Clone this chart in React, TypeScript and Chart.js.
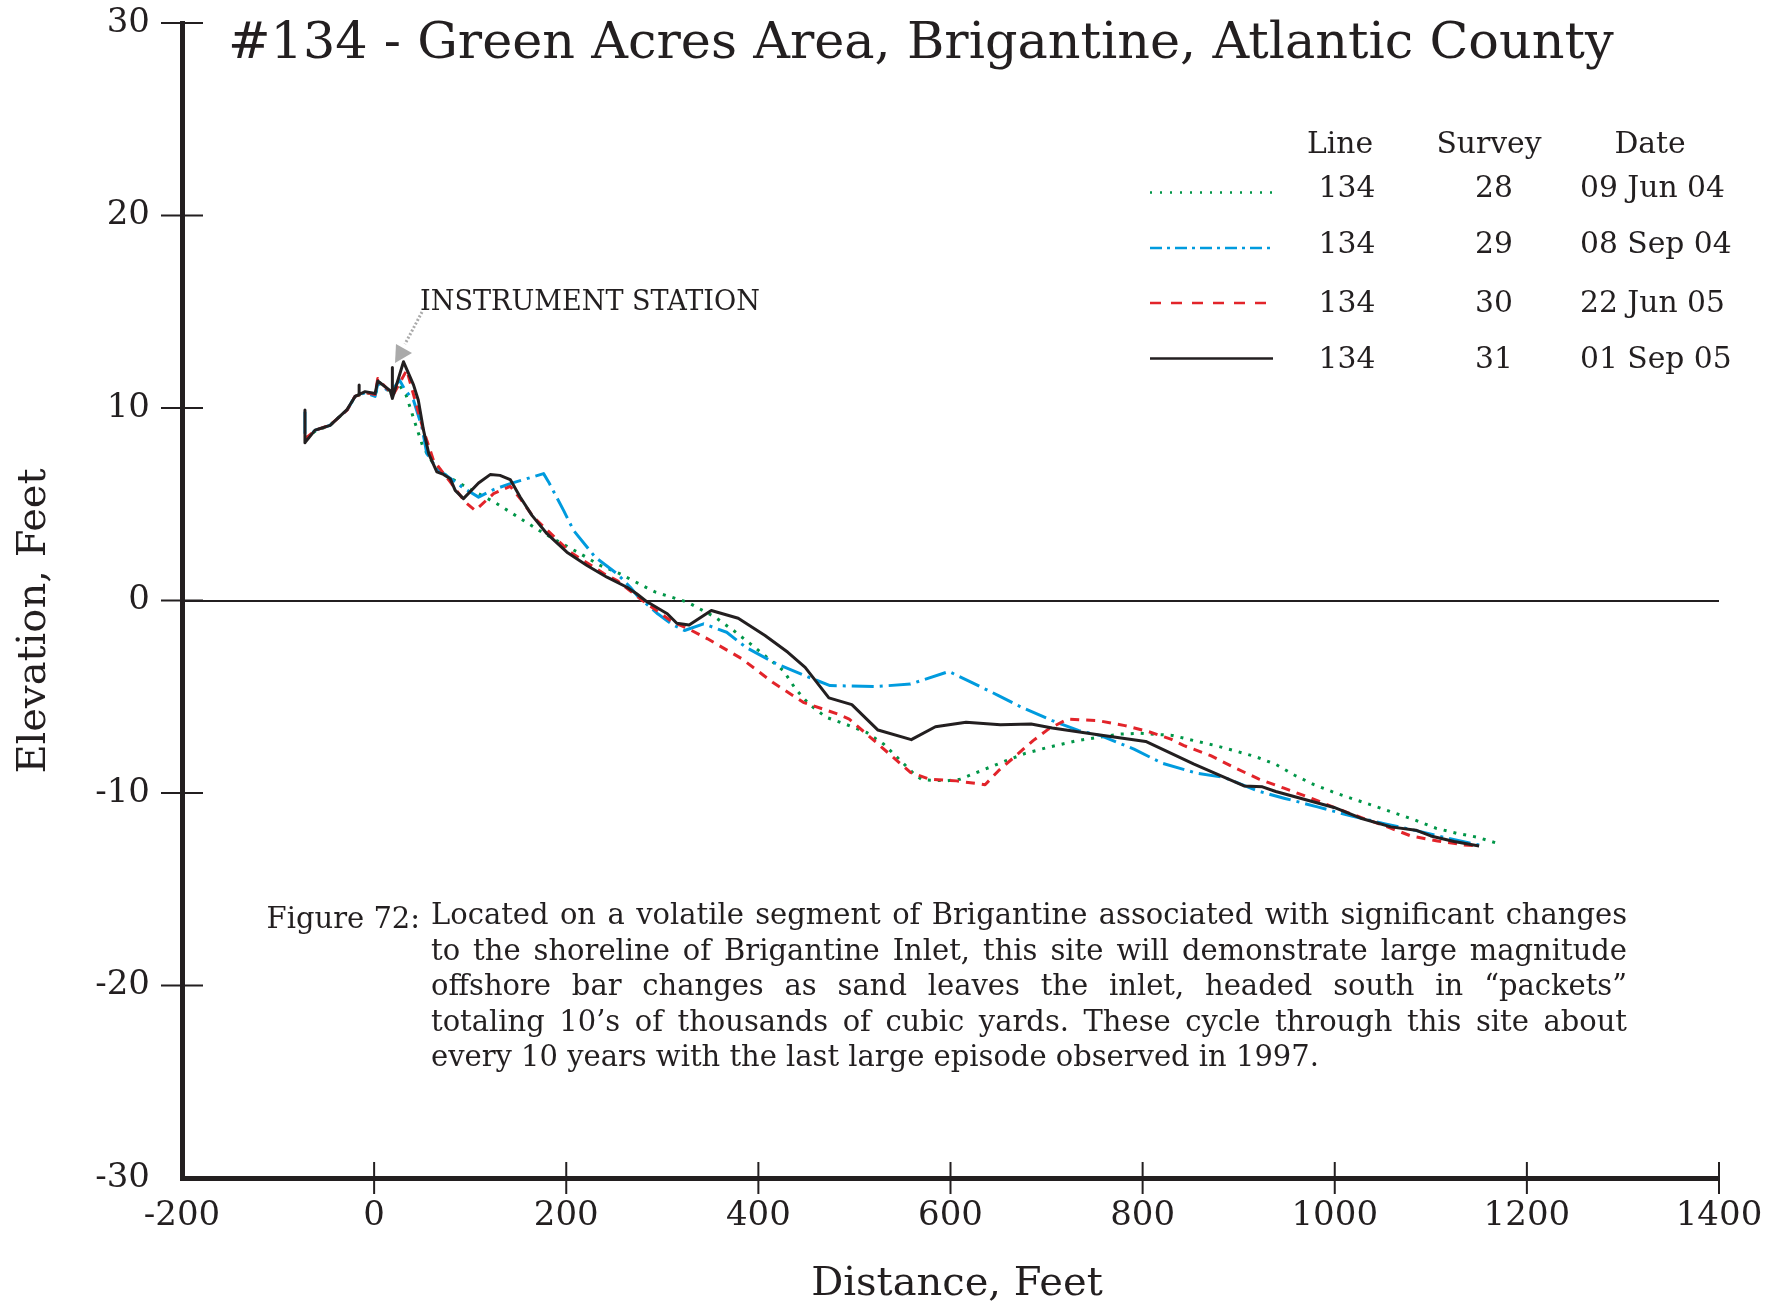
import { useEffect, useRef } from 'react';
import { Chart, registerables } from 'chart.js';

Chart.register(...registerables);

const INK = '#231f20';
const FONT = '"DejaVu Serif", serif';
const GREEN = 'rgb(0,150,72)';
const BLUE = 'rgb(0,155,222)';
const RED = 'rgb(226,36,42)';

// axis ranges & ticks
const X_MIN = -200;
const X_MAX = 1400;
const X_STEP = 200;
const Y_MIN = -30;
const Y_MAX = 30;
const Y_STEP = 10;

// text
const TITLE = '#134 - Green Acres Area, Brigantine, Atlantic County';
const X_TITLE = 'Distance, Feet';
const Y_TITLE = 'Elevation, Feet';
const ANNOTATION = 'INSTRUMENT STATION';
const FIG_LABEL = 'Figure 72:';
const CAPTION = [
  'Located on a volatile segment of Brigantine associated with significant changes',
  'to the shoreline of Brigantine Inlet, this site will demonstrate large magnitude',
  'offshore bar changes as sand leaves the inlet, headed south in \u201Cpackets\u201D',
  'totaling 10\u2019s of thousands of cubic yards.  These cycle through this site about',
  'every 10 years with the last large episode observed in 1997.',
];

// legend table
const LEGEND_HEADERS = ['Line', 'Survey', 'Date'];
const lineNumbers = ['134', '134', '134', '134'];
const surveyNumbers = ['28', '29', '30', '31'];
const surveyDates = ['09 Jun 04', '08 Sep 04', '22 Jun 05', '01 Sep 05'];

// profiles: [distance ft, elevation ft]
const survey28: [number, number][] = [
  [-72, 8.4], [-61, 8.8], [-46, 9.1], [-28, 9.9], [-20, 10.6], [-9, 10.8], [1, 10.7], [6, 11.3],
  [16.7, 10.84], [25, 11.3], [33.3, 10.67], [43.75, 9.05], [50.7, 8.0], [61.8, 7.1], [75, 6.5],
  [89.6, 6.07], [108.7, 5.55], [127.8, 5.03], [156.3, 4.13], [174.7, 3.55], [194.8, 2.98],
  [214.6, 2.43], [235.4, 1.82], [254.5, 1.42], [284, 0.66], [293.2, 0.43], [326.4, -0.09],
  [355, -0.87], [374.2, -1.56], [391.7, -2.25], [408.9, -2.95], [426, -3.64], [438.8, -4.6],
  [452.7, -5.38], [470.6, -6.07], [490.5, -6.42], [512.5, -6.85], [530.4, -7.46], [546.4, -8.24],
  [562.3, -9.02], [570.3, -9.31], [596.2, -9.37], [610.1, -9.28], [636, -8.76], [658, -8.32],
  [677.9, -7.94], [703.9, -7.6], [731.8, -7.28], [753.7, -7.11], [775.6, -6.94], [797.6, -6.9],
  [830.9, -7.01], [853.5, -7.28], [875.3, -7.53], [896.9, -7.82], [918, -8.12], [939.3, -8.53],
  [958.7, -9.09], [978.5, -9.57], [999.3, -9.97], [1020.9, -10.34], [1041.7, -10.68],
  [1062.9, -11.05], [1083.8, -11.41], [1105.3, -11.83], [1126.8, -12.09], [1148.7, -12.3],
  [1170.1, -12.63],
];

const survey29: [number, number][] = [
  [-72, 9.8], [-72, 8.4], [-61, 8.85], [-46, 9.1], [-28, 9.9], [-20, 10.6], [-9, 10.8], [1, 10.6],
  [4, 11.3], [17, 10.8], [20, 11.0], [26.4, 11.45], [32.3, 10.93], [41, 10.4], [49.7, 9.02],
  [54.9, 7.63], [61.8, 7.11], [68, 6.76], [91.4, 5.9], [108.7, 5.37], [124.3, 5.76],
  [141.7, 6.07], [176.4, 6.59], [181.6, 6.16], [197.2, 4.68], [207.6, 3.64], [230.2, 2.25],
  [252.8, 1.39], [266.7, 0.69], [275.3, 0.17], [295.2, -0.69], [309.2, -1.21], [323.1, -1.56],
  [343, -1.21], [367, -1.65], [386.9, -2.43], [418.8, -3.29], [452.7, -3.99], [474.6, -4.42],
  [522.4, -4.47], [558.3, -4.34], [598.3, -3.69], [618.1, -4.16], [650, -4.94], [674, -5.55],
  [705.9, -6.24], [733.8, -6.76], [756.3, -7.02], [791, -7.72], [820.6, -8.46], [857, -8.98],
  [884.7, -9.19], [919.5, -9.89], [947.2, -10.27], [982, -10.72], [1016.7, -11.19],
  [1051.4, -11.59], [1082.6, -11.93], [1117.4, -12.35], [1150.3, -12.7],
];

const survey30: [number, number][] = [
  [-72, 8.4], [-61, 8.85], [-46, 9.1], [-28, 9.9], [-20, 10.6], [-9, 10.8], [1, 10.7],
  [3.8, 11.53], [17, 10.8], [20, 10.7], [34, 11.97], [44.5, 10.06], [51, 8.9], [61.8, 7.28],
  [79.2, 6.16], [94.8, 5.11], [105.2, 4.68], [124.3, 5.55], [141.7, 5.93], [152, 5.3],
  [165.9, 4.33], [204.2, 2.51], [239.4, 1.39], [252.8, 1.04], [279.3, 0], [311.2, -1.13],
  [327.1, -1.47], [347.1, -1.99], [382.9, -3.03], [414.8, -4.25], [446.7, -5.29], [482.6, -5.9],
  [494.6, -6.16], [526.5, -7.54], [558.3, -8.93], [578.2, -9.28], [606.2, -9.37], [636, -9.57],
  [650, -8.84], [666, -8.15], [686, -7.28], [701.9, -6.68], [721.8, -6.16], [753.7, -6.24],
  [781.6, -6.5], [805.5, -6.8], [829.4, -7.2], [843.1, -7.54], [870.9, -8.06], [895.1, -8.67],
  [921.2, -9.28], [947.2, -9.75], [973.3, -10.23], [999.3, -10.75], [1027.1, -11.27],
  [1054.9, -11.76], [1079.2, -12.23], [1107, -12.49], [1134.7, -12.7], [1148.7, -12.75],
];

const survey31: [number, number][] = [
  [-72, 9.9], [-72, 8.2], [-61.5, 8.85], [-45.8, 9.1], [-28.5, 9.9], [-19.8, 10.6], [-15.6, 10.7],
  [-15.6, 11.2], [-15.6, 10.7], [-9.4, 10.85], [1, 10.75], [3.8, 11.4], [16.7, 10.9], [19, 10.5],
  [19, 12.1], [19, 10.5], [30.6, 12.4], [41, 11.2], [46, 10.4], [51.4, 8.85], [57, 7.6],
  [65.3, 6.68], [72.2, 6.55], [79.2, 6.33], [84.4, 5.72], [93, 5.29], [108.7, 6.1], [120.8, 6.54],
  [131, 6.5], [141.7, 6.28], [152, 5.38], [164.3, 4.42], [179.9, 3.47], [200.7, 2.51],
  [221.6, 1.82], [242.4, 1.21], [263.2, 0.69], [273.3, 0.35], [283.2, -0.04], [305.2, -0.69],
  [315.1, -1.18], [327.9, -1.27], [351, -0.52], [379, -0.92], [406.9, -1.82], [430.7, -2.69],
  [448.7, -3.47], [473.4, -5.06], [497.3, -5.41], [524.5, -6.73], [559.2, -7.23], [584.3, -6.56],
  [616.2, -6.33], [652, -6.45], [683.9, -6.42], [705.9, -6.62], [753.7, -6.97], [803.2, -7.32],
  [853.5, -8.5], [905.6, -9.63], [924.7, -9.68], [938.6, -9.92], [999.3, -10.75], [1027.1, -11.31],
  [1058.4, -11.76], [1084.4, -11.93], [1100, -12.23], [1124.3, -12.52], [1150.3, -12.75],
];

const SERIES = [
  { data: survey28, color: GREEN, dash: [3, 7], legendDash: [2, 8], width: 3 },
  { data: survey29, color: BLUE, dash: [22, 6, 3, 6], legendDash: [12, 5, 3, 5], width: 3 },
  { data: survey30, color: RED, dash: [9, 7], legendDash: [11, 10], width: 3 },
  { data: survey31, color: INK, dash: [], legendDash: [], width: 3 },
];

function fitSize(ctx: CanvasRenderingContext2D, text: string, width: number) {
  ctx.font = `100px ${FONT}`;
  return (100 * width) / ctx.measureText(text).width;
}

const decorPlugin = {
  id: 'decor',
  afterDraw(chart: any) {
    const ctx: CanvasRenderingContext2D = chart.ctx;
    const xs = chart.scales.x;
    const ys = chart.scales.y;
    ctx.save();

    // tick marks crossing the axes
    ctx.strokeStyle = INK;
    ctx.lineWidth = 2;
    ctx.setLineDash([]);
    const axisY = xs.top;
    for (let v = X_MIN + X_STEP; v <= X_MAX; v += X_STEP) {
      const px = xs.getPixelForValue(v);
      ctx.beginPath();
      ctx.moveTo(px, axisY - 16);
      ctx.lineTo(px, axisY + 16);
      ctx.stroke();
    }
    const axisX = ys.right;
    for (let v = Y_MIN + Y_STEP; v <= Y_MAX; v += Y_STEP) {
      const py = ys.getPixelForValue(v);
      ctx.beginPath();
      ctx.moveTo(axisX - 21, py);
      ctx.lineTo(axisX + 21, py);
      ctx.stroke();
    }

    ctx.fillStyle = INK;
    ctx.textBaseline = 'alphabetic';

    // title
    const ts = fitSize(ctx, TITLE, 1386);
    ctx.font = `${ts}px ${FONT}`;
    ctx.textAlign = 'left';
    ctx.fillText(TITLE, 228, 58);

    // axis titles
    ctx.font = `40px ${FONT}`;
    ctx.textAlign = 'center';
    ctx.fillText(X_TITLE, 957, 1295);
    ctx.save();
    ctx.translate(45, 621);
    ctx.rotate(-Math.PI / 2);
    ctx.fillText(Y_TITLE, 0, 0);
    ctx.restore();

    // legend table
    const ls = fitSize(ctx, surveyDates[0], 145);
    ctx.font = `${ls}px ${FONT}`;
    ctx.textAlign = 'center';
    ctx.fillText(LEGEND_HEADERS[0], 1340, 153);
    ctx.fillText(LEGEND_HEADERS[1], 1489, 153);
    ctx.fillText(LEGEND_HEADERS[2], 1650, 153);
    const rowBase = [197, 253, 312, 368];
    const rowLine = [192.5, 248, 303, 358.5];
    SERIES.forEach((s, i) => {
      ctx.textAlign = 'center';
      ctx.fillStyle = INK;
      ctx.fillText(lineNumbers[i], 1347, rowBase[i]);
      ctx.fillText(surveyNumbers[i], 1494, rowBase[i]);
      ctx.textAlign = 'left';
      ctx.fillText(surveyDates[i], 1580, rowBase[i]);
      ctx.strokeStyle = s.color;
      ctx.lineWidth = 2.5;
      ctx.setLineDash(s.legendDash);
      ctx.beginPath();
      ctx.moveTo(1150, rowLine[i]);
      ctx.lineTo(1273, rowLine[i]);
      ctx.stroke();
    });
    ctx.setLineDash([]);

    // annotation
    const as = fitSize(ctx, ANNOTATION, 340);
    ctx.font = `${as}px ${FONT}`;
    ctx.textAlign = 'left';
    ctx.fillStyle = INK;
    ctx.fillText(ANNOTATION, 420, 310);
    ctx.strokeStyle = 'rgb(170,170,170)';
    ctx.fillStyle = 'rgb(170,170,170)';
    ctx.lineWidth = 3;
    ctx.setLineDash([2, 2]);
    ctx.beginPath();
    ctx.moveTo(422, 312);
    ctx.lineTo(405, 344);
    ctx.stroke();
    ctx.setLineDash([]);
    ctx.beginPath();
    ctx.moveTo(395, 363);
    ctx.lineTo(396, 344);
    ctx.lineTo(412, 353);
    ctx.closePath();
    ctx.fill();

    // caption
    ctx.fillStyle = INK;
    const cs = fitSize(ctx, CAPTION[4], 888);
    ctx.font = `${cs}px ${FONT}`;
    ctx.textAlign = 'right';
    ctx.fillText(FIG_LABEL, 420, 928);
    ctx.textAlign = 'left';
    const left = 431;
    const right = 1627;
    CAPTION.forEach((line, i) => {
      const y = 924 + i * 35.5;
      if (i === CAPTION.length - 1) {
        ctx.fillText(line, left, y);
        return;
      }
      const words = line.split(/\s+/);
      const widths = words.map((w) => ctx.measureText(w).width);
      const total = widths.reduce((a, b) => a + b, 0);
      const gap = (right - left - total) / (words.length - 1);
      let x = left;
      words.forEach((w, k) => {
        ctx.fillText(w, x, y);
        x += widths[k] + gap;
      });
    });

    ctx.restore();
  },
};

export default function App() {
  const canvasRef = useRef<HTMLCanvasElement | null>(null);

  useEffect(() => {
    if (!canvasRef.current) return;
    const chart = new Chart(canvasRef.current, {
      type: 'line',
      data: {
        datasets: [...SERIES].reverse().map((s, i) => ({
          label: `Survey ${surveyNumbers[SERIES.length - 1 - i]}`,
          data: s.data.map(([x, y]) => ({ x, y })),
          borderColor: s.color,
          backgroundColor: s.color,
          borderWidth: s.width,
          borderDash: s.dash,
          borderCapStyle: 'butt',
          borderJoinStyle: 'round',
          pointRadius: 0,
          tension: 0,
          fill: false,
        })),
      },
      options: {
        responsive: true,
        maintainAspectRatio: false,
        animation: false,
        layout: { padding: { top: 23, right: 67, left: 0, bottom: 0 } },
        plugins: {
          legend: { display: false },
          tooltip: { enabled: false },
          title: { display: false },
        },
        scales: {
          x: {
            type: 'linear',
            min: X_MIN,
            max: X_MAX,
            afterFit: (s: any) => {
              s.height = 123;
              s.paddingLeft = 0;
              s.paddingRight = 0;
            },
            ticks: {
              stepSize: X_STEP,
              autoSkip: false,
              maxRotation: 0,
              color: INK,
              padding: 18,
              font: { family: FONT, size: 34 },
              callback: (v: any) => String(v),
            },
            grid: { display: false, drawTicks: false },
            border: { display: true, color: INK, width: 5 },
          },
          y: {
            type: 'linear',
            min: Y_MIN,
            max: Y_MAX,
            afterFit: (s: any) => {
              s.width = 182;
              s.paddingTop = 0;
              s.paddingBottom = 0;
            },
            ticks: {
              stepSize: Y_STEP,
              autoSkip: false,
              color: INK,
              padding: 32,
              font: { family: FONT, size: 34 },
              callback: (v: any) => String(v),
            },
            grid: {
              drawTicks: false,
              lineWidth: 2,
              color: (c: any) => (c.tick && c.tick.value === 0 ? INK : 'rgba(0,0,0,0)'),
            },
            border: { display: true, color: INK, width: 5 },
          },
        },
      } as any,
      plugins: [decorPlugin],
    });
    return () => chart.destroy();
  }, []);

  return (
    <div
      style={{
        position: 'fixed',
        left: 0,
        top: 0,
        width: 1786,
        height: 1301,
        background: '#fff',
      }}
    >
      <canvas ref={canvasRef} />
    </div>
  );
}
